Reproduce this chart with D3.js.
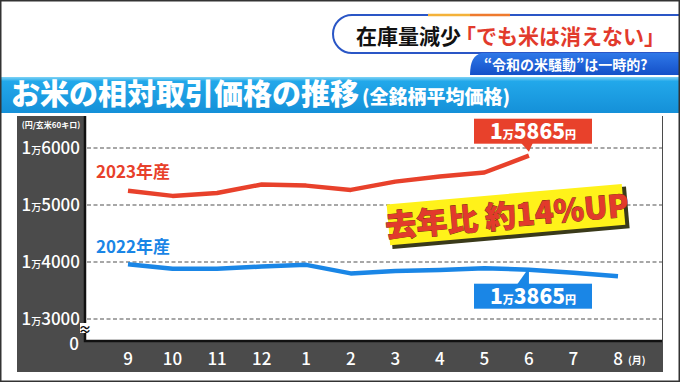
<!DOCTYPE html>
<html lang="ja">
<head>
<meta charset="UTF-8">
<title>お米の相対取引価格の推移</title>
<script src="https://d3js.org/d3.v7.min.js"></script>
<style>
  body { margin: 0; background: #fff; }
  svg { display: block; font-family: "Noto Sans CJK JP", "Noto Sans", sans-serif; }
</style>
</head>
<body>
<script>
// 月 (9月〜翌8月)
const months = ["9", "10", "11", "12", "1", "2", "3", "4", "5", "6", "7", "8"];
// 2022年産 (円/玄米60キロ)
const price2022 = [13960, 13880, 13880, 13920, 13950, 13800, 13840, 13860, 13890, 13865, 13810, 13750];
// 2023年産 (6月まで)
const price2023 = [15250, 15160, 15210, 15360, 15340, 15265, 15410, 15500, 15570, 15865];
const yTicks = [13000, 14000, 15000, 16000];

const W = 680, H = 382;
const svg = d3.select("body").append("svg").attr("width", W).attr("height", H);

const defs = svg.append("defs");
const gBar = defs.append("linearGradient").attr("id", "bar").attr("x1", 0).attr("y1", 0).attr("x2", 0).attr("y2", 1);
gBar.append("stop").attr("offset", "0").attr("stop-color", "#7fd3f5");
gBar.append("stop").attr("offset", "0.12").attr("stop-color", "#22a8ea");
gBar.append("stop").attr("offset", "1").attr("stop-color", "#1590d8");
const gSub = defs.append("linearGradient").attr("id", "sub").attr("x1", 0).attr("y1", 0).attr("x2", 0).attr("y2", 1);
gSub.append("stop").attr("offset", "0").attr("stop-color", "#2f78e8");
gSub.append("stop").attr("offset", "1").attr("stop-color", "#1450c8");

// ---- 見出し (右上)
svg.append("path")
  .attr("d", "M700,15 H352 A19,19 0 0 0 352,53 H700")
  .attr("fill", "#fff").attr("stroke", "#2a56c6").attr("stroke-width", 2);
svg.append("line").attr("x1", 428).attr("x2", 470).attr("y1", 15).attr("y2", 15)
  .attr("stroke", "#f4b23a").attr("stroke-width", 2.5);
svg.append("line").attr("x1", 470).attr("x2", 510).attr("y1", 15).attr("y2", 15)
  .attr("stroke", "#ee7a2e").attr("stroke-width", 2.5);
const head = svg.append("text").attr("x", 356).attr("y", 44)
  .attr("font-size", 21).attr("font-weight", 700);
head.append("tspan").attr("fill", "#111").text("在庫量減少");
head.append("tspan").attr("fill", "#e23a2c").attr("dx", -6).text("「でも米は消えない」");

svg.append("path")
  .attr("d", "M482,53 H690 V75 H470 Q470,55 482,53 Z")
  .attr("fill", "url(#sub)");
svg.append("text").attr("x", 484).attr("y", 70)
  .attr("fill", "#fff").attr("font-size", 14).attr("font-weight", 700)
  .text("“令和の米騒動”は一時的?");

// ---- タイトルバー
svg.append("rect").attr("x", 0).attr("y", 77).attr("width", W).attr("height", 36).attr("fill", "url(#bar)");
const title = svg.append("text").attr("x", 11).attr("y", 105).attr("fill", "#fff").attr("font-weight", 900);
title.append("tspan").attr("font-size", 29).text("お米の相対取引価格の推移");
title.append("tspan").attr("font-size", 19).attr("dx", 3).attr("dy", -1).text("(全銘柄平均価格)");

// ---- チャート枠
const plot = { left: 85, right: 662, top: 116, bottom: 341 };
svg.append("rect").attr("x", 17).attr("y", 116).attr("width", 646).attr("height", 256).attr("fill", "#4b4b4b");
svg.append("rect").attr("x", plot.left).attr("y", plot.top)
  .attr("width", plot.right - plot.left).attr("height", plot.bottom - plot.top).attr("fill", "#fff");

const x = d3.scalePoint().domain(months).range([128, 618]);
const y = d3.scaleLinear().domain([13000, 16000]).range([319, 148]);

// 目盛線
svg.append("g").selectAll("line").data(yTicks).join("line")
  .attr("x1", plot.left + 2).attr("x2", plot.right)
  .attr("y1", d => y(d)).attr("y2", d => y(d))
  .attr("stroke", "#8a8a8a").attr("stroke-width", 1.4).attr("stroke-dasharray", "4,2.5");

// 軸線
svg.append("path")
  .attr("d", `M${plot.left},${plot.top} V${plot.bottom} H${plot.right}`)
  .attr("fill", "none").attr("stroke", "#111").attr("stroke-width", 2.5);

// Y軸ラベル
const yAxis = svg.append("g");
const yl = yAxis.selectAll("text").data(yTicks).join("text")
  .attr("x", 80).attr("y", d => y(d) + 6)
  .attr("text-anchor", "end").attr("fill", "#fff").attr("font-size", 17).attr("font-weight", 500);
yl.append("tspan").text(d => Math.floor(d / 10000));
yl.append("tspan").attr("font-size", 10).text("万");
yl.append("tspan").text(d => String(d % 10000).padStart(4, "0"));
yAxis.append("text").attr("x", 79).attr("y", 350).attr("text-anchor", "end")
  .attr("fill", "#fff").attr("font-size", 17).attr("font-weight", 500).text("0");
yAxis.append("text").attr("x", 51).attr("y", 128).attr("text-anchor", "middle")
  .attr("fill", "#fff").attr("font-size", 8).attr("font-weight", 700).text("(円/玄米60キロ)");
// 省略記号
svg.append("rect").attr("x", 80).attr("y", 323).attr("width", 10).attr("height", 10).attr("fill", "#fff");
svg.append("text").attr("x", 85).attr("y", 334).attr("text-anchor", "middle")
  .attr("font-size", 13).attr("font-weight", 700).attr("fill", "#111").text("≈");

// X軸ラベル
svg.append("g").selectAll("text").data(months).join("text")
  .attr("x", d => x(d)).attr("y", 365).attr("text-anchor", "middle")
  .attr("fill", "#fff").attr("font-size", 17).attr("font-weight", 500).text(d => d);
svg.append("text").attr("x", 628).attr("y", 364)
  .attr("fill", "#fff").attr("font-size", 10).attr("font-weight", 700).text("(月)");
svg.append("text").attr("x", 630).attr("y", 379).attr("fill", "#fff").attr("opacity", 0.15)
  .attr("font-size", 8).attr("font-style", "italic").attr("font-weight", 700).text("CBCテレビ");

// 折れ線
const line = d3.line().x((d, i) => x(months[i])).y(d => y(d)).curve(d3.curveLinear);
svg.append("path").datum(price2022).attr("d", line)
  .attr("fill", "none").attr("stroke", "#1a86e6").attr("stroke-width", 4.5).attr("stroke-linejoin", "round");
svg.append("path").datum(price2023).attr("d", line)
  .attr("fill", "none").attr("stroke", "#e8412b").attr("stroke-width", 4.5).attr("stroke-linejoin", "round");

// 系列ラベル
svg.append("text").attr("x", 96).attr("y", 178).attr("fill", "#e8412b")
  .attr("font-size", 17).attr("font-weight", 700).text("2023年産");
svg.append("text").attr("x", 96).attr("y", 253).attr("fill", "#1a86e6")
  .attr("font-size", 17).attr("font-weight", 700).text("2022年産");

// 吹き出し
function callout(value, month, color, above) {
  const px = x(month), py = y(value);
  const bx = 474, bw = 118, bh = 25;
  const by = above ? py - 37 : py + 14;
  const g = svg.append("g");
  if (above) {
    g.append("path").attr("d", `M${px - 8},${by + bh - 1} L${px},${py - 4} L${px + 4},${by + bh - 1} Z`).attr("fill", color);
  } else {
    g.append("path").attr("d", `M${px - 12},${by + 1} L${px},${py - 2} L${px},${by + 1} Z`).attr("fill", color);
  }
  g.append("rect").attr("x", bx).attr("y", by).attr("width", bw).attr("height", bh).attr("fill", color);
  const t = g.append("text").attr("x", bx + bw / 2).attr("y", by + 20).attr("text-anchor", "middle")
    .attr("fill", "#fff").attr("font-weight", 900).attr("font-size", 21);
  t.append("tspan").text(Math.floor(value / 10000));
  t.append("tspan").attr("font-size", 11).text("万");
  t.append("tspan").text(String(value % 10000).padStart(4, "0"));
  t.append("tspan").attr("font-size", 11).text("円");
}
callout(price2023[9], "6", "#e8412b", true);
callout(price2022[9], "6", "#1a86e6", false);

// 去年比
const badge = svg.append("g").attr("transform", "translate(507,215) rotate(-5)");
badge.append("rect").attr("x", -117).attr("y", -18).attr("width", 238).attr("height", 42).attr("fill", "#3a3a1a");
badge.append("rect").attr("x", -119).attr("y", -21).attr("width", 236).attr("height", 41).attr("fill", "#fff21a");
badge.append("text").attr("x", 0).attr("y", 12).attr("text-anchor", "middle")
  .attr("font-size", 31).attr("font-weight", 900).attr("fill", "#e23a2c")
  .attr("stroke", "#6a2a10").attr("stroke-width", 0.8).attr("paint-order", "stroke")
  .text("去年比 約14%UP");

// 外枠
svg.append("rect").attr("x", 0.75).attr("y", 0.75).attr("width", W - 1.5).attr("height", H - 1.5)
  .attr("fill", "none").attr("stroke", "#333").attr("stroke-width", 1.5);
</script>
</body>
</html>
